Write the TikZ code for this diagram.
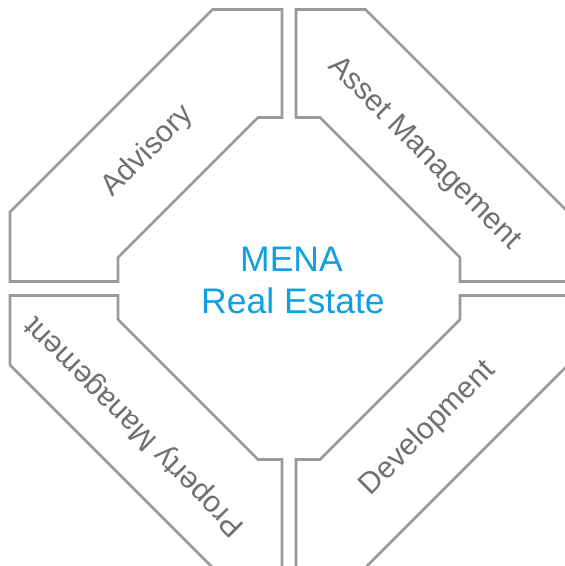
\documentclass[tikz,border=0pt]{standalone}
\usepackage{fontspec}
\setmainfont{Liberation Sans}
\definecolor{framegray}{HTML}{9A9A9A}
\definecolor{labelgray}{HTML}{707070}
\definecolor{menablue}{HTML}{0FA0E0}

\begin{document}
\begin{tikzpicture}[x=1pt,y=1pt,
		segment/.style={draw=framegray,line width=2.6pt},
		service/.style={text=labelgray,inner sep=0pt,font=\fontsize{30}{35}\selectfont},
		hub/.style={text=menablue,inner sep=0pt,anchor=base,font=\fontsize{35.5}{41.5}\selectfont}]
		\clip (-289,-277.5) rectangle (276,288.5);
		% one corner segment, turned four times
		\foreach \turn in {0,90,180,270}
		\draw[segment,rotate=\turn] (-279,76.5) -- (-279,7) -- (-171,7) -- (-171,31)
			-- (-31,171) -- (-7,171) -- (-7,279) -- (-76.5,279) -- cycle;
		\node[service,rotate=45] (advisory) at (-141,137) {Advisory};
		\node[service,rotate=-45] (asset) at (135,135) {Asset Management};
		\node[service,rotate=135] (property) at (-154,-137) {Property Management};
		\node[service,rotate=45] (development) at (139,-140) {Development};
		\node[hub] (mena) at (2.5,16.8) {MENA};
		\node[hub] (estate) at (4,-24.5) {Real Estate};
		\end{tikzpicture}
\end{document}
